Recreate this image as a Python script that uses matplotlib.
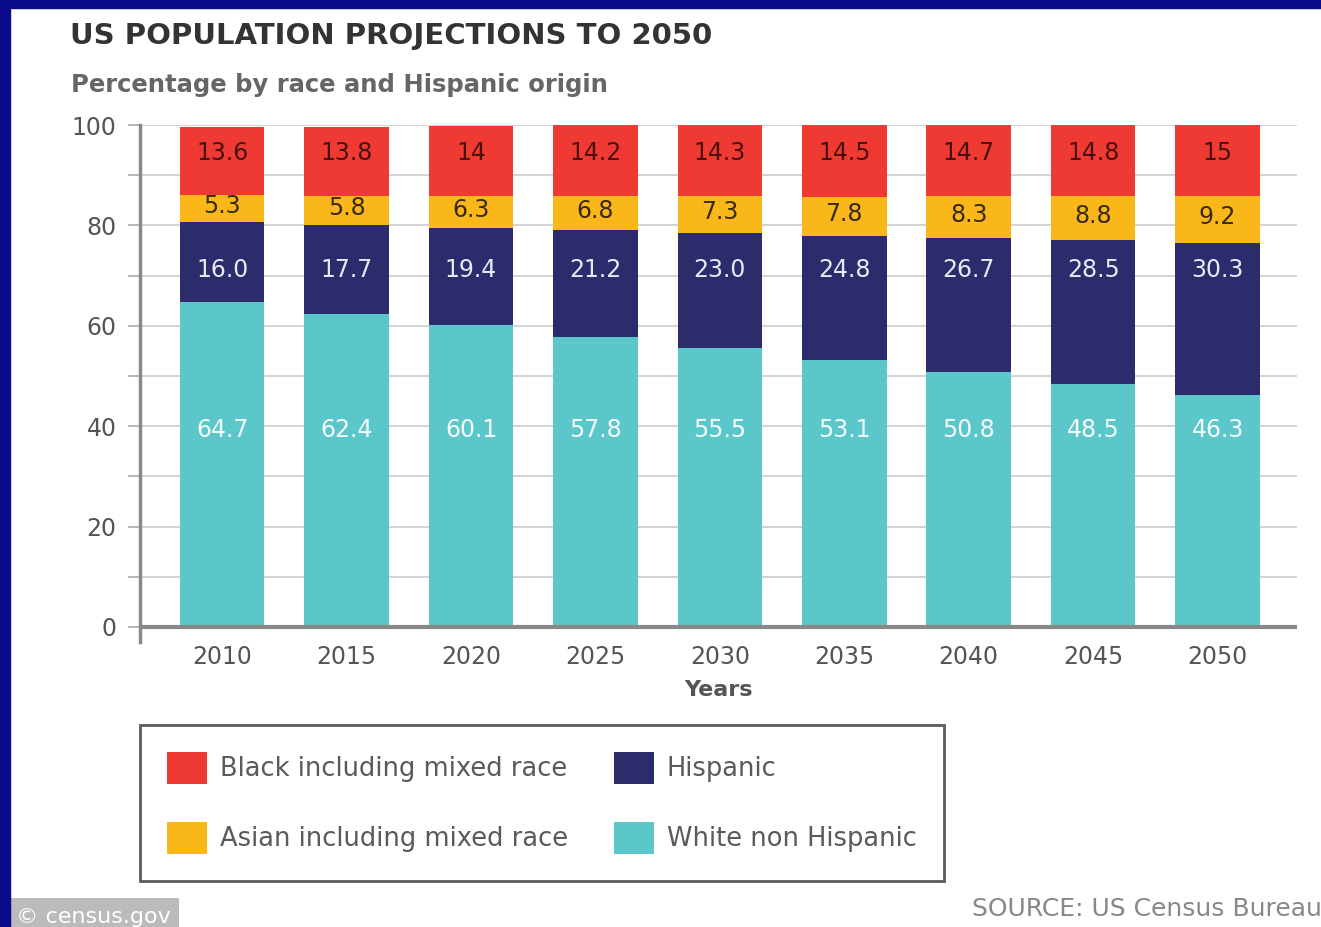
import matplotlib.pyplot as plt
import matplotlib.patches as mpatches
import numpy as np

plt.rcParams['font.family'] = ['DejaVu Sans']

years = ['2010', '2015', '2020', '2025', '2030', '2035', '2040', '2045', '2050']
white = [64.7, 62.4, 60.1, 57.8, 55.5, 53.1, 50.8, 48.5, 46.3]
hispanic = [16.0, 17.7, 19.4, 21.2, 23.0, 24.8, 26.7, 28.5, 30.3]
asian = [5.3, 5.8, 6.3, 6.8, 7.3, 7.8, 8.3, 8.8, 9.2]
black = [13.6, 13.8, 14, 14.2, 14.3, 14.5, 14.7, 14.8, 15]

series_names = ['Black including mixed race', 'Asian including mixed race',
                'Hispanic', 'White non Hispanic']

c_black = '#ee3a32'
c_asian = '#f9b719'
c_hisp = '#2c2b6c'
c_white = '#5cc7ca'

fig = plt.figure(figsize=(13.21, 9.27), dpi=100)
fig.patch.set_facecolor('white')

# blue frame of the screenshot
fig.add_artist(mpatches.Rectangle((0, 0.991), 1, 0.009, transform=fig.transFigure,
                                  color='#0a0a8c', zorder=10))
fig.add_artist(mpatches.Rectangle((0, 0), 0.0076, 1, transform=fig.transFigure,
                                  color='#0a0a8c', zorder=10))

ax = fig.add_axes([0.106, 0.3074, 0.876, 0.5577])
x = np.arange(len(years))
w = 0.68

white = np.array(white)
hispanic = np.array(hispanic)
asian = np.array(asian)
black = np.array(black)

b1 = ax.bar(x, white, w, color=c_white, zorder=3)
b2 = ax.bar(x, hispanic, w, bottom=white, color=c_hisp, zorder=3)
b3 = ax.bar(x, asian, w, bottom=white + hispanic, color=c_asian, zorder=3)
b4 = ax.bar(x, black, w, bottom=white + hispanic + asian, color=c_black, zorder=3)

for i in range(len(years)):
    ax.text(x[i], 39.3, f'{white[i]:.1f}', ha='center', va='center',
            fontsize=17, color='#f4fbfb', zorder=4)
    ax.text(x[i], 71.2, f'{hispanic[i]:.1f}', ha='center', va='center',
            fontsize=17, color='#e8e8f2', zorder=4)
    ax.text(x[i], white[i] + hispanic[i] + asian[i] / 2 + 0.5, f'{asian[i]:g}',
            ha='center', va='center', fontsize=17, color='#3a2a10', zorder=4)
    ax.text(x[i], 94.5, f'{black[i]:g}', ha='center', va='center',
            fontsize=17, color='#4a1010', zorder=4)

ax.set_xlim(-0.66, 8.64)
ax.set_ylim(-3, 100)
ax.set_yticks([0, 20, 40, 60, 80, 100])
ax.set_yticks([10, 30, 50, 70, 90], minor=True)
ax.set_xticks(x)
ax.set_xticklabels(years)
ax.tick_params(axis='x', length=0, pad=2, labelsize=17, labelcolor='#555555')
ax.tick_params(axis='y', which='both', length=9, width=1.2, color='#aaaaaa',
               labelsize=17, labelcolor='#555555', pad=8)
ax.grid(axis='y', which='both', color='#cccccc', linewidth=1.2, zorder=0)
ax.axhline(0, color='#888888', linewidth=3, zorder=4)

for s in ['top', 'right', 'bottom']:
    ax.spines[s].set_visible(False)
ax.spines['left'].set_color('#888888')
ax.spines['left'].set_linewidth(2.5)

ax.set_xlabel('Years', fontsize=16, fontweight='bold', color='#555555', labelpad=8)

fig.text(0.053, 0.961, 'US POPULATION PROJECTIONS TO 2050', fontsize=21,
         fontweight='bold', color='#333333', va='center')
fig.text(0.054, 0.908, 'Percentage by race and Hispanic origin', fontsize=17.5,
         fontweight='bold', color='#666666', va='center')

handles = [b4, b3, b2, b1]
leg = fig.legend(handles, series_names, loc='upper left', bbox_to_anchor=(0.106, 0.218),
                 ncol=2, fontsize=18.5, frameon=True, fancybox=False,
                 handlelength=1.55, handleheight=1.52, handletextpad=0.5,
                 labelspacing=1.5, columnspacing=1.8, borderpad=1.05,
                 borderaxespad=0)
leg.get_frame().set_edgecolor('#333333')
leg.get_frame().set_linewidth(2)
for t in leg.get_texts():
    t.set_color('#5a5a5a')

fig.text(0.012, 0.0, '\u00a9 census.gov', fontsize=16, color='white', va='bottom',
         bbox=dict(facecolor='#bbbbbb', edgecolor='none', boxstyle='square,pad=0.4'))
fig.text(0.736, 0.006, 'SOURCE: US Census Bureau', fontsize=18, color='#888888',
         va='bottom')

fig.savefig('out.png', dpi=100)
